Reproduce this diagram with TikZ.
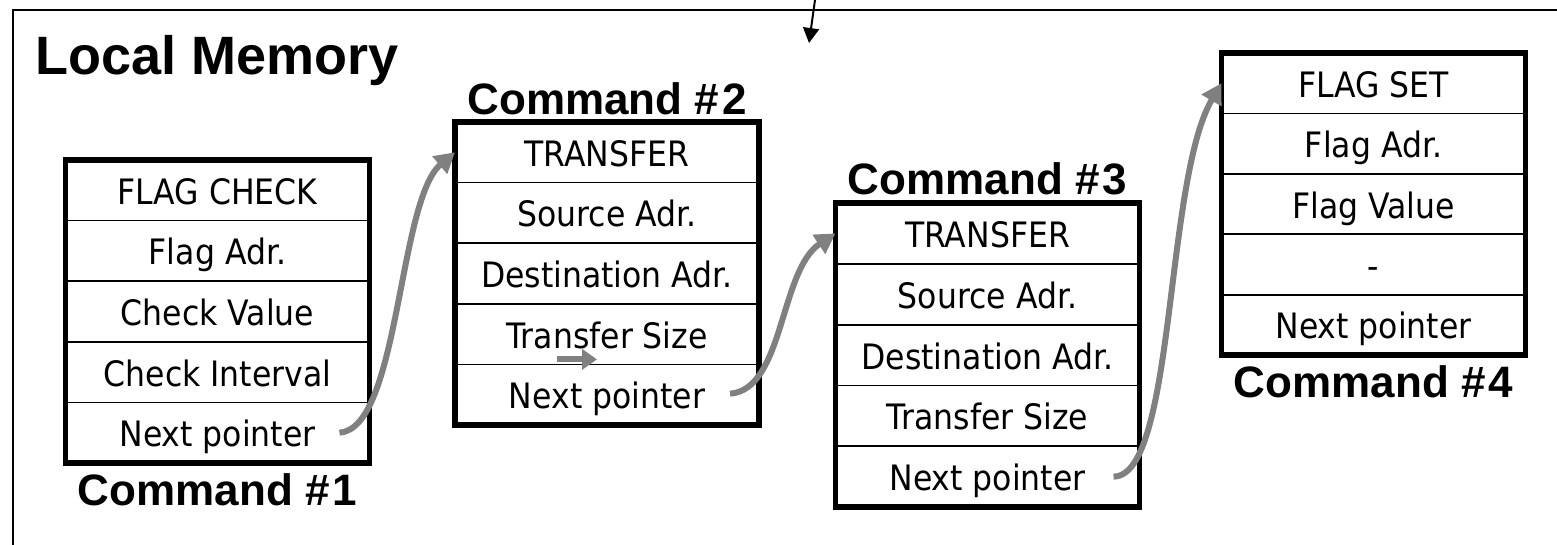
\documentclass[tikz,border=0pt]{standalone}
\usepackage{fontspec}
\setmainfont{Liberation Sans}
\newfontfamily\cellfont{DejaVu Sans}[FakeStretch=0.9]
\usetikzlibrary{positioning,arrows.meta,calc}
\definecolor{memInk}{RGB}{0,0,0}
\definecolor{memPointer}{RGB}{128,128,128}

\tikzset{
  cell/.style={draw=memInk, line width=1.6pt, minimum width=304pt, minimum height=60.6pt,
               inner sep=0pt, outer sep=0pt, text height=28pt, text depth=0pt,
               font=\cellfont\fontsize{35}{35}\selectfont},
  cmdbox/.style={draw=memInk, line width=5.5pt},
  cmdlabel/.style={inner sep=0pt, font=\bfseries\fontsize{44}{44}\selectfont},
  pointer/.style={draw=memPointer, line width=6pt, -{Triangle[length=20pt,width=22pt]}},
  feed/.style={draw=memInk, line width=2pt, -{Triangle[length=15pt,width=16pt]}},
}

\begin{document}
\begin{tikzpicture}[x=1pt, y=-1pt]
  \useasboundingbox (0,0) rectangle (1557,544);

  % frame of the local memory
  \draw[memInk, line width=2.8pt] (13,560) |- (1570,10);
  \node[anchor=base west, inner sep=0pt, font=\bfseries\fontsize{54}{54}\selectfont]
    (title) at (35,74) {Local Memory};

  \coordinate (feedIn) at (815,0);
  \coordinate (feedEnd) at (809,43);
  \draw[feed] (feedIn) -- (feedEnd);

  % command #1
  \foreach \txt [count=\i] in {FLAG CHECK,Flag Adr.,Check Value,Check Interval,Next pointer}
    \node[cell] (c1r\i) at (217.5,{160+60.6*(\i-0.5)}) {\txt};
  \draw[cmdbox] (c1r1.north west) rectangle (c1r5.south east);
  \node[cmdlabel, below=10pt of c1r5] (c1label) {Command \#\kern3pt1};

  % command #2
  \foreach \txt [count=\i] in {TRANSFER,Source Adr.,Destination Adr.,Transfer Size,Next pointer}
    \node[cell] (c2r\i) at (607,{122+60.6*(\i-0.5)}) {\txt};
  \draw[cmdbox] (c2r1.north west) rectangle (c2r5.south east);
  \node[cmdlabel, above=7pt of c2r1] (c2label) {Command \#\kern3pt2};

  % command #3
  \foreach \txt [count=\i] in {TRANSFER,Source Adr.,Destination Adr.,Transfer Size,Next pointer}
    \node[cell] (c3r\i) at (987.5,{203+60.8*(\i-0.5)}) {\txt};
  \draw[cmdbox] (c3r1.north west) rectangle (c3r5.south east);
  \node[cmdlabel, above=8pt of c3r1] (c3label) {Command \#\kern3pt3};

  % command #4
  \foreach \txt [count=\i] in {FLAG SET,Flag Adr.,Flag Value,-,Next pointer}
    \node[cell] (c4r\i) at (1373.5,{53+60.4*(\i-0.5)}) {\txt};
  \draw[cmdbox] (c4r1.north west) rectangle (c4r5.south east);
  \node[cmdlabel, below=10pt of c4r5] (c4label) {Command \#\kern3pt4};

  % next pointers
  \draw[pointer] ([xshift=-30pt]c1r5.east) .. controls +(60,-4) and +(-57,48) .. (c2r1.west);
  \draw[pointer] ([xshift=-29pt,yshift=1pt]c2r5.east) .. controls +(54,-4) and +(-56,37) .. (c3r1.west);
  \draw[pointer] ([xshift=-26pt]c3r5.east) .. controls +(62,0) and +(-57,97) .. (c4r1.west);

  \coordinate (stepFrom) at ([shift={(-50,-5)}]c2r4.south);
  \coordinate (stepTo) at ([shift={(-10,-5)}]c2r4.south);
  \draw[pointer, -{Triangle[length=15pt,width=20pt]}] (stepFrom) -- (stepTo);
\end{tikzpicture}
\end{document}
